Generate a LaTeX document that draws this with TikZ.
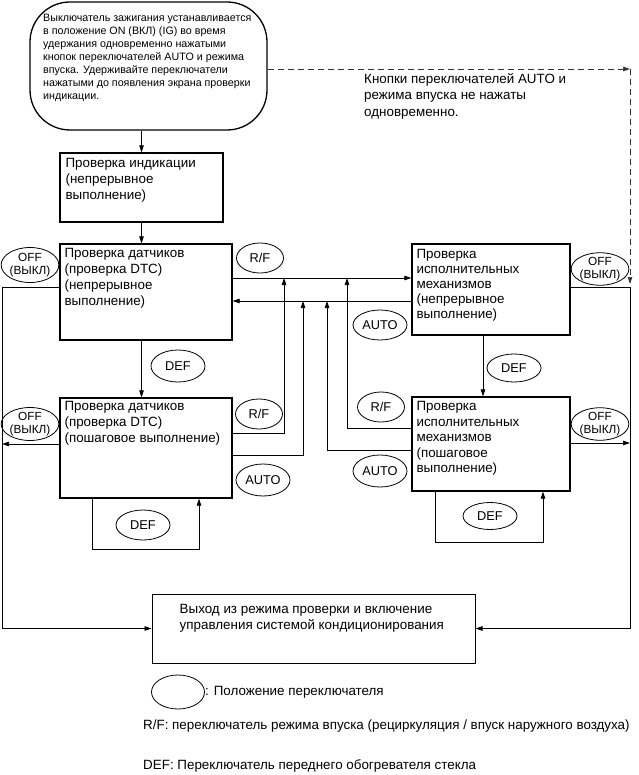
\documentclass[tikz,border=0pt]{standalone}
\usepackage{fontspec}
\setmainfont{Liberation Sans}
\usetikzlibrary{arrows.meta,shapes.geometric,calc}
\begin{document}
\begin{tikzpicture}[x=1pt,y=-1pt,
  box/.style={draw,line width=1.3pt,inner sep=0pt},
  txt/.style={anchor=north west,align=left,inner sep=0pt,font=\fontsize{13.4}{16}\selectfont},
  small/.style={anchor=north west,align=left,inner sep=0pt,font=\fontsize{10.7}{13}\selectfont},
  sw/.style={draw,ellipse,line width=0.8pt,inner sep=0pt,align=center,minimum width=54pt,minimum height=32pt,font=\fontsize{12.8}{13}\selectfont},
  offsw/.style={sw,font=\fontsize{11.8}{12.3}\selectfont},
  con/.style={line width=0.7pt},
  arr/.style={con,-{Triangle[length=7pt,width=4.5pt]}},
  dsh/.style={arr,dash pattern=on 6pt off 4pt,draw=black!80}
]
\useasboundingbox (0,0) rectangle (638,775);

% boxes
\node[box,rounded corners=40pt,minimum width=237pt,minimum height=128pt] (top) at (148.5,66) {};
\node[small] (toptxt) at (43,14) {Выключатель зажигания устанавливается\\в положение ON (ВКЛ) (IG) во время\\удержания одновременно нажатыми\\кнопок переключателей AUTO и режима\\впуска. Удерживайте переключатели\\нажатыми до появления экрана проверки\\индикации.};

\node[box,minimum width=163pt,minimum height=69pt] (ind) at (141.5,187.5) {};
\node[txt] (indtxt) at ($(ind.north west)+(6,6)$) {Проверка индикации\\(непрерывное\\выполнение)};

\node[box,minimum width=172pt,minimum height=96pt] (s1) at (146,292) {};
\node[txt] (s1txt) at ($(s1.north west)+(5,5)$) {Проверка датчиков\\(проверка DTC)\\(непрерывное\\выполнение)};

\node[box,minimum width=172pt,minimum height=100pt] (s2) at (146,448) {};
\node[txt] (s2txt) at ($(s2.north west)+(5,4)$) {Проверка датчиков\\(проверка DTC)\\(пошаговое выполнение)};

\node[box,minimum width=158pt,minimum height=91pt] (a1) at (491,289.5) {};
\node[txt,font=\fontsize{13.4}{15}\selectfont] (a1txt) at ($(a1.north west)+(5,6)$) {Проверка\\исполнительных\\механизмов\\(непрерывное\\выполнение)};

\node[box,minimum width=158pt,minimum height=94pt] (a2) at (491,444) {};
\node[txt,font=\fontsize{13.4}{15.5}\selectfont] (a2txt) at ($(a2.north west)+(5,5)$) {Проверка\\исполнительных\\механизмов\\(пошаговое\\выполнение)};

\node[box,line width=1pt,minimum width=323pt,minimum height=69pt] (ex) at (313.5,628.5) {};
\node[txt] (extxt) at ($(ex.north west)+(28,11)$) {Выход из режима проверки и включение\\управления системой кондиционирования};

% note
\node[txt,font=\fontsize{13.4}{16.5}\selectfont] (note) at (364,73) {Кнопки переключателей AUTO и\\режима впуска не нажаты\\одновременно.};

% switch ellipses
\node[offsw,minimum height=35pt] (off1) at (30,265) {OFF\\(ВЫКЛ)};
\node[offsw,minimum height=33pt] (off2) at (30,424) {OFF\\(ВЫКЛ)};
\node[offsw] (off3) at (600,269) {OFF\\(ВЫКЛ)};
\node[offsw] (off4) at (600,424) {OFF\\(ВЫКЛ)};
\node[sw,minimum width=47pt,minimum height=30pt] (rf1) at (260,258) {R/F};
\node[sw,minimum width=47pt,minimum height=30pt] (rf2) at (259,414) {R/F};
\node[sw,minimum width=47pt,minimum height=30pt] (rf3) at (381,407) {R/F};
\node[sw,minimum height=30pt] (auto1) at (380,325) {AUTO};
\node[sw] (auto2) at (263,480) {AUTO};
\node[sw] (auto3) at (380,471) {AUTO};
\node[sw] (def1) at (178,366) {DEF};
\node[sw,minimum height=30pt] (def2) at (143,525) {DEF};
\node[sw,minimum height=28pt] (def3) at (514,368) {DEF};
\node[sw,minimum height=27pt] (def4) at (490,516) {DEF};

% legend
\node[sw,minimum width=53pt,minimum height=34pt] (leg) at (178,692) {};
\node[anchor=west,inner sep=0pt,font=\fontsize{13.4}{16}\selectfont] (legtxt) at (leg.east) {: Положение переключателя};
\node[anchor=west,inner sep=0pt,font=\fontsize{13.4}{16}\selectfont] (rftxt) at (143,726) {R/F: переключатель режима впуска (рециркуляция / впуск наружного воздуха)};
\node[anchor=west,inner sep=0pt,font=\fontsize{13.4}{16}\selectfont] (deftxt) at (143,766) {DEF: Переключатель переднего обогревателя стекла};

% helper coordinates
\coordinate (dc) at (630,69);
\coordinate (de) at (630,284);
\coordinate (j1) at (284,278);
\coordinate (j2) at (303,301);
\coordinate (j3) at (347,278);
\coordinate (j4) at (327,301);
\coordinate (rc) at (630,287);
\coordinate (lc) at (2,287);
\coordinate (ad) at (483,0);

% main flow
\draw[arr] (top.south -| ind.south) -- (ind.north);
\draw[arr] (ind.south) -- (s1.north -| ind.south);
\draw[arr] (s1.south -| ind.south) -- (s2.north -| ind.south);
\draw[arr] (a1.south -| ad) -- (a2.north -| ad);

% cross connections
\draw[arr] (s1.east |- j1) -- (a1.west |- j1);
\draw[arr] (a1.west |- j2) -- (s1.east |- j2);
\draw[arr] (s2.east |- 0,433) -- (j1 |- 0,433) -- (j1);
\draw[arr] (s2.east |- 0,455) -- (j2 |- 0,455) -- (j2);
\draw[arr] (a2.west |- 0,428) -- (j3 |- 0,428) -- (j3);
\draw[arr] (a2.west |- 0,450) -- (j4 |- 0,450) -- (j4);

% OFF exits
\draw[arr] (a1.east |- rc) -- (rc) -- (rc |- ex.east) -- (ex.east);
\draw[arr] (s1.west |- lc) -- (lc) -- (lc |- ex.west) -- (ex.west);
\draw[arr] (s2.west |- 0,444) -- (lc |- 0,444);
\draw[arr] (a2.east |- 0,443) -- (rc |- 0,443);

% DEF loops
\draw[arr] (s2.south -| 92,0) -- (92,549) -- (199,549) -- (s2.south -| 199,0);
\draw[arr] (a2.south -| 435,0) -- (435,542) -- (543,542) -- (a2.south -| 543,0);

% dashed path
\draw[dsh] (top.east |- dc) -- (dc);
\draw[dsh] (dc) -- (de);
\end{tikzpicture}
\end{document}
